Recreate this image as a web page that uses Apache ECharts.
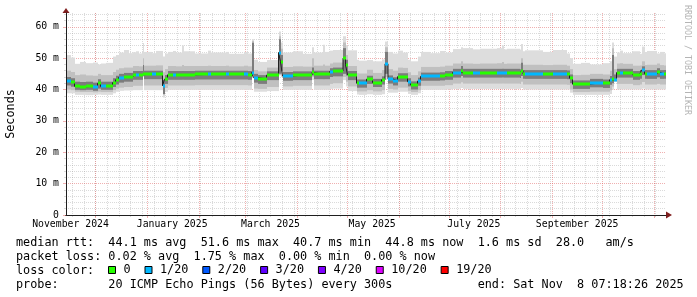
<!DOCTYPE html>
<html><head><meta charset="utf-8">
<script src="https://cdn.jsdelivr.net/npm/echarts@6/dist/echarts.min.js"></script>
<style>html,body{margin:0;padding:0;background:#fff}#c{width:697px;height:297px}</style>
</head><body><div id="c"></div>
<script>
// ---- time span ----
const startTime = '2024-11-13T07:18:26';
const endTime = '2025-11-08T07:18:26';
// ---- segments (day offset from start) ----
const segDay = [0,2.7,5.1,8.1,11.7,15.9,18.9,20.7,23.7,27.9,29.7,31.5,34.5,37.5,39.9,41.7,43.5,45.9,46.8,51.3,53.7,57.9,59.1,60.9,63.9,65.7,69.3,70.5,77.1,84.9,86.7,95.7,97.5,106.5,108.9,111.3,112.5,114.9,120.3,127.5,128.7,129.9,135.9,141.9,147.6,148.5,153.9,155.1,158.1,159.9,166.2,167.7,168.9,174.3,175.5,180.3,183.9,189.3,191.4,193.2,195.9,198.9,201.9,204.9,206.7,210.9,212.7,218.1,224.1,227.1,231.9,237.0,237.9,243.9,248.1,258.3,261.3,262.5,264.3,272.1,273.0,274.2,275.1,285.9,291.9,300.3,302.1,303.9,308.7,314.1,321.9,326.1,327.6,328.8,330.3,332.1,333.9,339.9,344.1,345.3,347.1,348.3,354.3,356.1,358.5];
// median rtt (ms)
const median = [42.7,42.3,41.0,40.9,41.0,40.7,42.0,41.0,41.0,42.2,43.1,43.8,44.1,44.1,44.7,44.7,44.7,45.0,44.9,44.9,44.9,41.2,43.3,44.7,44.7,44.7,44.7,44.7,44.8,44.8,44.8,44.8,44.8,44.8,44.7,45.4,43.8,43.4,44.6,51.8,48.9,44.3,44.6,44.6,45.5,44.9,44.9,44.9,45.7,45.9,50.0,47.9,44.7,42.0,42.0,43.3,42.2,43.1,48.2,43.4,42.8,44.1,44.1,42.5,41.5,42.7,44.2,44.2,44.3,44.7,45.4,46.0,45.4,45.4,45.4,45.4,45.4,45.4,45.4,45.3,46.0,45.0,45.0,45.0,45.0,44.9,43.6,41.7,41.7,42.2,42.0,43.1,43.5,43.0,45.4,45.4,45.4,44.7,45.0,46.2,45.0,45.0,45.6,45.0,45.0];
// loss level index (0 = no loss, 1 = 1/20)
const loss = [1,0,0,0,0,1,0,1,0,0,0,1,0,0,0,1,0,0,0,1,0,1,0,0,1,0,0,0,0,1,0,1,0,1,0,1,1,0,0,1,0,1,0,0,0,0,0,0,1,0,0,0,0,0,1,0,0,0,1,1,1,0,0,1,0,1,1,1,0,0,1,0,0,1,0,1,1,1,0,0,0,0,1,0,1,0,0,0,0,1,0,1,0,1,0,1,0,0,0,1,0,1,0,1,0];
// smoke envelopes (ms)
const smokeMin = [38.8,38.8,38.3,38.3,38.2,38.3,38.4,38.3,38.3,38.8,39.3,39.6,39.7,39.7,39.8,39.8,39.8,44.0,39.8,39.8,39.8,37.5,39.3,39.9,39.9,39.9,39.9,39.9,39.9,39.9,39.9,39.9,39.9,39.9,39.9,44.0,39.3,39.3,39.5,44.5,44.0,39.9,39.9,39.9,43.0,39.9,39.9,39.9,40.2,40.3,43.0,41.0,39.5,38.4,38.3,38.5,38.3,38.5,43.0,39.0,39.0,39.3,39.3,38.6,38.3,38.8,39.9,39.9,39.9,40.0,40.2,40.5,40.2,40.2,40.2,40.2,40.2,40.2,40.2,40.2,40.5,40.0,40.0,40.0,40.0,40.0,39.0,38.3,38.3,38.3,38.3,38.6,40.0,42.5,40.0,40.0,40.0,40.0,40.0,40.3,40.0,40.0,40.0,40.0,40.0];
const smokeMax = [51.0,50.2,48.2,48.8,48.4,48.6,48.0,48.3,48.5,50.5,51.0,51.8,52.6,51.6,51.9,52.2,51.5,54.8,52.0,51.6,52.3,50.5,51.5,52.0,52.3,51.8,54.0,52.2,51.5,52.4,51.8,52.0,51.4,52.0,51.5,56.0,49.5,48.8,49.4,58.5,55.0,51.8,52.2,51.4,53.5,51.8,54.3,52.0,52.4,52.6,57.0,54.0,52.5,49.5,49.2,49.4,49.0,49.6,55.3,52.0,51.5,52.4,51.8,49.5,49.0,50.5,52.0,51.6,52.3,51.8,52.9,53.5,53.2,52.8,53.0,53.2,54.0,52.8,53.0,52.8,54.5,52.2,52.5,52.0,52.6,51.5,50.0,48.2,48.5,48.0,48.4,49.0,55.0,50.5,51.8,52.4,51.6,52.2,51.4,53.7,52.0,52.3,51.5,52.0,51.6];
const midLo = [40.0,39.8,39.3,39.2,39.2,39.1,39.3,39.2,39.2,39.8,40.3,40.6,40.8,40.8,41.2,41.2,41.2,44.2,41.3,41.3,41.3,38.3,40.5,41.3,41.3,41.3,41.3,41.3,41.4,41.4,41.4,41.4,41.4,41.4,41.3,44.2,40.3,40.2,40.8,44.7,45.0,41.0,41.2,41.2,44.0,41.3,41.3,41.3,41.8,42.0,44.0,42.5,41.0,39.4,39.4,39.8,39.4,39.8,44.0,40.2,40.0,40.6,40.6,39.6,39.2,39.8,41.2,41.2,41.2,41.4,41.9,42.3,41.9,41.9,41.9,41.9,41.9,41.9,41.9,41.8,42.5,41.6,41.6,41.6,41.6,41.5,40.0,39.2,39.2,39.3,39.3,39.8,41.0,42.6,41.8,41.8,41.8,41.4,41.6,42.4,41.6,41.6,41.8,41.6,41.6];
const midHi = [46.0,45.6,44.6,44.8,44.5,44.4,45.0,44.6,44.6,45.6,46.3,46.8,47.0,47.0,47.5,47.5,47.4,50.0,47.6,47.6,47.7,45.5,46.5,47.5,47.5,47.4,47.8,47.5,47.5,47.6,47.5,47.6,47.4,47.6,47.4,55.5,46.2,45.8,47.0,57.0,53.0,47.2,47.4,47.3,50.0,47.6,48.0,47.6,48.3,48.6,55.0,51.0,47.5,45.2,45.1,46.3,45.3,46.2,53.5,46.5,46.0,47.0,46.9,45.5,44.6,45.8,47.2,47.2,47.3,47.6,48.3,49.0,48.3,48.2,48.3,48.4,48.8,48.2,48.3,48.2,50.0,47.9,47.9,47.8,47.9,47.6,46.5,44.6,44.7,45.0,44.8,46.0,53.2,46.5,48.3,48.4,48.2,47.6,47.7,49.0,47.8,47.9,48.3,47.8,47.7];
const coreLo = [41.3,40.9,39.9,39.8,39.9,39.6,40.3,39.9,39.9,40.8,41.6,42.2,42.5,42.5,43.1,43.1,43.1,44.5,43.3,43.3,43.3,38.6,41.8,43.1,43.1,43.1,43.1,43.1,43.2,43.2,43.2,43.2,43.2,43.2,43.1,44.5,42.2,41.8,43.0,45.0,46.0,42.8,43.0,43.0,44.5,43.3,43.3,43.3,44.0,44.2,45.0,44.5,43.0,40.6,40.6,41.8,40.8,41.6,45.0,41.9,41.3,42.5,42.5,41.0,40.0,41.2,42.8,42.8,42.9,43.1,43.8,44.3,43.8,43.8,43.8,43.8,43.8,43.8,43.8,43.7,44.3,43.4,43.4,43.4,43.4,43.3,42.0,40.2,40.2,40.7,40.5,41.5,42.0,42.8,43.8,43.8,43.8,43.1,43.4,44.6,43.4,43.4,43.9,43.4,43.4];
const coreHi = [44.0,43.6,42.5,42.4,42.5,42.2,43.3,42.5,42.5,43.6,44.4,45.0,45.3,45.3,45.9,45.9,45.9,47.8,46.0,46.0,46.0,43.0,44.6,45.9,45.9,45.9,45.9,45.9,46.0,46.0,46.0,46.0,46.0,46.0,45.9,54.9,45.0,44.6,45.8,56.0,51.0,45.6,45.8,45.8,47.0,46.0,46.0,46.0,46.8,47.0,53.2,49.5,45.9,43.2,43.2,44.4,43.4,44.2,52.0,44.5,43.9,45.2,45.2,43.6,42.6,43.8,45.4,45.4,45.5,45.9,46.6,47.5,46.6,46.6,46.6,46.6,46.6,46.6,46.6,46.5,48.5,46.2,46.2,46.2,46.2,46.1,44.8,42.9,42.9,43.4,43.2,44.3,51.0,44.8,46.6,46.6,46.6,45.9,46.2,47.4,46.2,46.2,46.8,46.2,46.2];
// ---- legend / axis text ----
const lossLabels = ['0','1/20','2/20','3/20','4/20','10/20','19/20'];
const lossColors = ['#26ff00','#00b8ff','#0059ff','#5e00ff','#7e00ff','#dd00ff','#ff0000'];
const monthStarts = ['2024-12-01','2025-01-01','2025-02-01','2025-03-01','2025-04-01','2025-05-01','2025-06-01','2025-07-01','2025-08-01','2025-09-01','2025-10-01','2025-11-01'];
const labelDates = ['2024-11-16','2025-01-16','2025-03-16','2025-05-16','2025-07-16','2025-09-16'];
const xLabels = ['November 2024','January 2025','March 2025','May 2025','July 2025','September 2025'];
const firstSunday = '2024-11-17';
const yMajor = [0,10,20,30,40,50,60];
const yLabels = ['0','10 m','20 m','30 m','40 m','50 m','60 m'];
const yMinor = [2,4,6,8,12,14,16,18,22,24,26,28,32,34,36,38,42,44,46,48,52,54,56,58,62,64];
const yMax = 64.4;
const statsLines = [
  'median rtt:  44.1 ms avg  51.6 ms max  40.7 ms min  44.8 ms now  1.6 ms sd  28.0   am/s',
  'packet loss: 0.02 % avg  1.75 % max  0.00 % min  0.00 % now',
  'loss color:',
  'probe:       20 ICMP Echo Pings (56 Bytes) every 300s            end: Sat Nov  8 07:18:26 2025'
];
const yName = 'Seconds';
const watermark = 'RRDTOOL / TOBI OETIKER';

// ---- build ----
const DAY = 86400000;
const ts = s => new Date(s.length === 10 ? s + 'T00:00:00' : s).getTime();
const tStart = ts(startTime), tEnd = ts(endTime);
const segT = segDay.map(d => tStart + d * DAY);
const segEnd = i => (i + 1 < segT.length ? segT[i + 1] : tEnd);
const monthTs = monthStarts.map(ts);
const labelTs = labelDates.map(ts);
const weekTs = [];
for (let t = ts(firstSunday); t < tEnd; t += 7 * DAY) weekTs.push(t);

const mono = 'DejaVu Sans Mono';
const majorColor = 'rgba(222,79,79,0.45)';
const minorColor = 'rgba(143,143,143,0.33)';
const arrowColor = '#801f1f';
const axisColor = '#1f1f1f';

function bandSeries(lo, hi, color) {
  return {
    type: 'custom', silent: true, z: 2, clip: true,
    renderItem: (params, api) => {
      const a = api.coord([api.value(0), api.value(3)]);
      const b = api.coord([api.value(1), api.value(2)]);
      const x0 = Math.round(a[0]), x1 = Math.round(b[0]);
      return { type: 'rect', shape: { x: x0, y: a[1], width: Math.max(1, x1 - x0), height: b[1] - a[1] }, style: { fill: color } };
    },
    encode: { x: [0, 1], y: [2, 3] },
    data: segT.map((t, i) => [t, segEnd(i), lo[i], hi[i]])
  };
}
function lossSeries(k) {
  const data = [];
  segT.forEach((t, i) => { if (loss[i] === k) data.push([t, segEnd(i), median[i]]); });
  return {
    type: 'custom', name: lossLabels[k], silent: true, z: 4, clip: true,
    itemStyle: { color: lossColors[k] },
    renderItem: (params, api) => {
      const a = api.coord([api.value(0), api.value(2)]);
      const b = api.coord([api.value(1), api.value(2)]);
      const x0 = Math.round(a[0]), x1 = Math.round(b[0]);
      return { type: 'rect', shape: { x: x0, y: Math.round(a[1]) - 1.5, width: Math.max(1, x1 - x0), height: 3 }, style: { fill: lossColors[k] } };
    },
    encode: { x: [0, 1], y: 2 },
    data
  };
}
const medianLine = segT.map((t, i) => [t, median[i]]);
medianLine.push([tEnd, median[median.length - 1]]);

const labelFor = (v) => { let best = 0; labelTs.forEach((t, i) => { if (Math.abs(t - v) < Math.abs(labelTs[best] - v)) best = i; }); return xLabels[best]; };
const hidden = { axisTick: { show: false }, axisLabel: { show: false }, splitLine: { show: false } };

const option = {
  animation: false,
  backgroundColor: '#ffffff',
  grid: { left: 66, top: 13, width: 600, height: 202 },
  xAxis: [
    { type: 'value', min: tStart, max: tEnd, position: 'bottom', z: 1, scale: true,
      axisLine: { show: false, onZero: false },
      axisTick: { show: true, length: 3, customValues: monthTs, lineStyle: { color: majorColor } },
      axisLabel: { customValues: labelTs, hideOverlap: false, fontFamily: mono, fontSize: 9.8, color: '#000', margin: 4,
        formatter: labelFor },
      splitLine: { show: true, lineStyle: { color: majorColor, type: [1, 1], width: 1 } } },
    { type: 'value', min: tStart, max: tEnd, position: 'bottom', z: 0, scale: true,
      axisLine: { show: false, onZero: false },
      axisTick: { show: true, length: 2, customValues: weekTs, lineStyle: { color: minorColor } },
      axisLabel: { show: false },
      splitLine: { show: true, lineStyle: { color: minorColor, type: [1, 1], width: 1 } } },
    Object.assign({ type: 'value', min: tStart, max: tEnd, position: 'bottom', z: 5, scale: true,
      axisLine: { show: true, onZero: false, symbol: ['none', 'triangle'], symbolSize: [7, 6], symbolOffset: [0, 3], lineStyle: { color: arrowColor } } }, hidden),
    Object.assign({ type: 'value', min: tStart, max: tEnd, position: 'bottom', z: 6, scale: true,
      axisLine: { show: true, onZero: false, lineStyle: { color: axisColor, width: 1 } } }, hidden)
  ],
  yAxis: [
    { type: 'value', min: 0, max: yMax, position: 'left', z: 1,
      axisLine: { show: false, onZero: false },
      axisTick: { show: true, length: 3, customValues: yMajor, lineStyle: { color: majorColor } },
      axisLabel: { customValues: yMajor, fontFamily: mono, fontSize: 9.8, color: '#000', margin: 7,
        formatter: (v) => yLabels[yMajor.indexOf(v)] },
      splitLine: { show: true, lineStyle: { color: majorColor, type: [1, 1], width: 1 } } },
    { type: 'value', min: 0, max: yMax, position: 'left', z: 0,
      axisLine: { show: false },
      axisTick: { show: true, length: 2, customValues: yMinor, lineStyle: { color: minorColor } },
      axisLabel: { show: false },
      splitLine: { show: true, lineStyle: { color: minorColor, type: [1, 1], width: 1 } } },
    Object.assign({ type: 'value', min: 0, max: yMax, position: 'left', z: 5,
      axisLine: { show: true, onZero: false, symbol: ['none', 'triangle'], symbolSize: [7, 5], symbolOffset: [0, 2.5], lineStyle: { color: arrowColor } } }, hidden),
    Object.assign({ type: 'value', min: 0, max: yMax, position: 'left', z: 6,
      axisLine: { show: true, onZero: false, lineStyle: { color: axisColor, width: 1 } } }, hidden)
  ],
  legend: {
    data: lossLabels, left: 103, top: 258, orient: 'horizontal', selectedMode: false,
    icon: 'rect', itemWidth: 7, itemHeight: 7, itemGap: 13.9,
    itemStyle: { borderColor: '#000', borderWidth: 1 },
    textStyle: { fontFamily: mono, fontSize: 11.8, color: '#000', padding: [0, 0, 0, 3], lineHeight: 14 }
  },
  series: [
    bandSeries(smokeMin, smokeMax, '#dddddd'),
    bandSeries(midLo, midHi, '#c0c0c0'),
    bandSeries(coreLo, coreHi, '#7c7c7c'),
    { type: 'line', step: 'end', data: medianLine, showSymbol: false, symbol: 'none', silent: true, z: 3,
      lineStyle: { color: '#202020', width: 1 } },
    ...lossLabels.map((_, k) => lossSeries(k))
  ],
  graphic: [
    ...statsLines.map((s, i) => ({ type: 'text', x: 16, y: [242.5, 256.5, 270.5, 284.8][i], silent: true,
      style: { text: s, fill: '#000', font: '11.8px "DejaVu Sans Mono"', align: 'left', verticalAlign: 'middle' } })),
    { type: 'text', x: 10.5, y: 114, rotation: Math.PI / 2, silent: true,
      style: { text: yName, fill: '#000', font: '11.8px "DejaVu Sans Mono"', align: 'center', verticalAlign: 'middle' } },
    { type: 'text', x: 687.5, y: 60, rotation: -Math.PI / 2, silent: true,
      style: { text: watermark, fill: '#b4b4b4', font: '8.3px "DejaVu Sans Mono"', align: 'center', verticalAlign: 'middle' } }
  ]
};
const chart = echarts.init(document.getElementById('c'), null, { renderer: 'canvas' });
chart.setOption(option);
</script>
</body></html>
